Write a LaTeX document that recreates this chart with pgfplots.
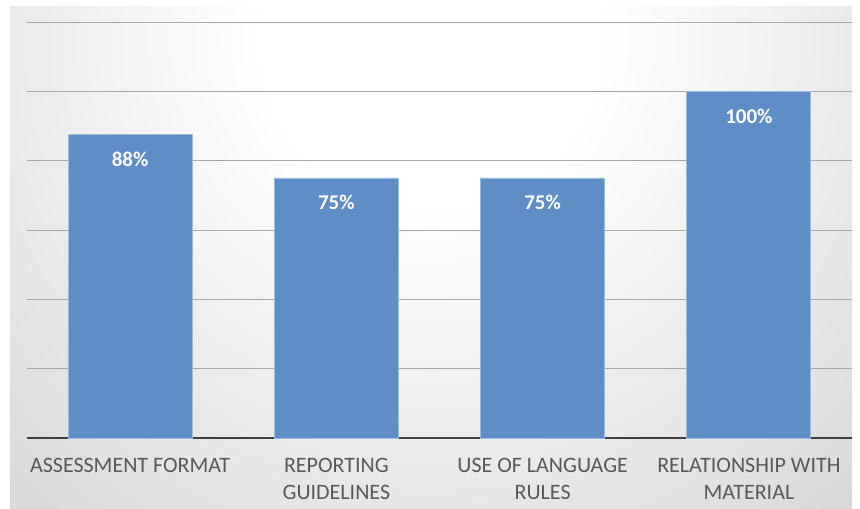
\documentclass[border=0pt]{standalone}
\usepackage{pgfplots}
\pgfplotsset{compat=1.18}
\usepackage{fontspec}
\setmainfont{Carlito}
\definecolor{barblue}{HTML}{5F8DC6}
\definecolor{labgray}{HTML}{595959}
\definecolor{gridgray}{HTML}{A6A6A6}
\definecolor{basegray}{HTML}{404040}
\pgfdeclareradialshading{bgshade}{\pgfpoint{0bp}{0bp}}{color(0bp)=(white); color(6bp)=(white); color(28bp)=(black!20); color(50bp)=(black!26)}
\begin{document}
\begin{tikzpicture}[x=1pt,y=1pt]
\fill[white] (0,0) rectangle (860,509);
\begin{scope}
\clip (10,0) rectangle (852,502);
\fill[black!22] (10,0) rectangle (852,502);
\shade[shading=bgshade] (430,470) circle (700);
\end{scope}
\begin{axis}[
  at={(27pt,71pt)}, anchor=south west,
  scale only axis, width=825pt, height=416pt,
  ymin=0, ymax=120, xmin=-0.5, xmax=3.5,
  ybar, bar width=124pt,
  axis x line*=bottom, axis y line*=left,
  y axis line style={draw=none},
  x axis line style={draw=basegray, line width=2pt, -},
  ytick={20,40,...,120}, yticklabels={},
  ymajorgrids, grid style={gridgray, line width=0.9pt},
  major tick length=0pt,
  xtick={0,1,2,3},
  xticklabels={ASSESSMENT FORMAT, REPORTING\\GUIDELINES, USE OF LANGUAGE\\RULES, RELATIONSHIP WITH\\MATERIAL},
  xticklabel style={align=center, font=\fontsize{22}{27}\selectfont, text=labgray, yshift=-17pt},
  point meta=explicit symbolic,
  nodes near coords,
  nodes near coords style={anchor=north, inner sep=0pt, yshift=-17pt, text=white, font=\fontsize{21}{25}\selectfont\bfseries},
]
\addplot[fill=barblue, draw=barblue!60!white, line width=0.8pt] coordinates {(0,87.5) [88\%] (1,75) [75\%] (2,75) [75\%] (3,100) [100\%]};
\end{axis}
\end{tikzpicture}
\end{document}
